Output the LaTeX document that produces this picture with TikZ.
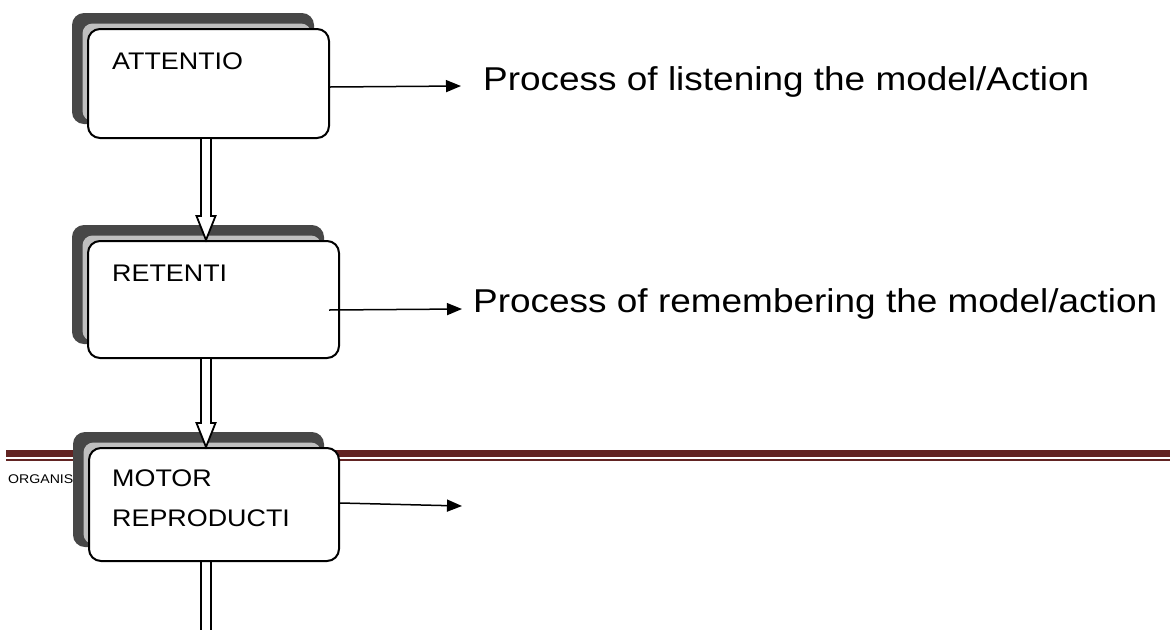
\documentclass[tikz,border=0pt]{standalone}
\usepackage{fontspec}
\setmainfont{Liberation Sans}[FakeStretch=1.12]
\usetikzlibrary{arrows.meta, positioning, calc, backgrounds}
\definecolor{headred}{RGB}{98,36,35}

\begin{document}
\begin{tikzpicture}[x=1pt, y=-1pt,
    stepbox/.style={draw, line width=2pt, rounded corners=12pt, fill=white, inner sep=0pt, anchor=north west},
    boxtext/.style={anchor=north west, inner sep=0pt, align=left, font=\fontsize{24}{40}\selectfont},
    desc/.style={anchor=base west, inner sep=0pt, font=\fontsize{33}{40}\selectfont},
    darkshade/.style={fill=black!72, rounded corners=12pt},
    lightshade/.style={fill=black!25, rounded corners=10pt},
    flowarrow/.style={-{Triangle[length=15pt,width=12pt]}, line width=1.5pt},
    hollow/.style={draw, fill=white, line width=1.8pt, line join=miter},
    ]
    \useasboundingbox (0,0) rectangle (1170,630);

    % Stages of the process
    \node[stepbox, minimum width=241pt, minimum height=109pt] (att) at (87,28) {};
    \node[stepbox, minimum width=251pt, minimum height=117pt] (ret) at (87,240) {};
    \node[stepbox, minimum width=250pt, minimum height=113pt] (mot) at (88,447) {};

    \node[boxtext] (attlbl) at ([xshift=25pt, yshift=-25pt]att.north west) {ATTENTIO};
    \node[boxtext] (retlbl) at ([xshift=25pt, yshift=-25pt]ret.north west) {RETENTI};
    \node[boxtext] (motlbl) at ([xshift=24pt, yshift=-23pt]mot.north west) {MOTOR\\REPRODUCTI};

    % Descriptions on the right
    \node[desc] (listen) at (483,90) {Process of listening the model/Action};
    \node[desc] (remember) at (473,312) {Process of remembering the model/action};

    \coordinate (tip1) at (461,86);
    \coordinate (tip2) at (462,309);
    \coordinate (tip3) at (462,506);

    \draw[flowarrow] ([yshift=-3.5pt]att.east) -- (tip1);
    \draw[flowarrow] ([xshift=-11pt, yshift=-10.5pt]ret.east) -- (tip2);
    \draw[flowarrow] ([yshift=1.5pt]mot.east) -- (tip3);

    % Hollow arrows down the column
    \coordinate (flow) at (206,0);
    \coordinate (flowend) at (206,630);
    \foreach \a/\b in {att/ret, ret/mot}
        \draw[hollow] ($(\a.south -| flow)+(-5,0)$) -- ($(\b.north -| flow)+(-5,-24)$)
            -- ++(-4.5,0) -- (\b.north -| flow) -- ($(\b.north -| flow)+(9.5,-24)$)
            -- ++(-4.5,0) -- ($(\a.south -| flow)+(5,0)$);
    \foreach \s in {-5,5}
        \draw[line width=1.8pt] ($(mot.south -| flow)+(\s,0)$) -- ($(flowend)+(\s,0)$);

    % Page header and box shadows behind everything
    \begin{scope}[on background layer]
        \draw[headred, line width=7pt] (6,453.5) -- (1170,453.5);
        \draw[headred, line width=1.5pt] (6,460) -- (1170,460);
        \node[anchor=base west, inner sep=0pt, font=\fontsize{12.6}{14}\selectfont] (org) at (8,483) {ORGANIS};
        \foreach \b in {att, ret, mot} {
            \fill[darkshade] ([xshift=-15pt, yshift=15pt]\b.north west) rectangle ([xshift=-16pt, yshift=15pt]\b.south east);
            \fill[lightshade] ([xshift=-4.5pt, yshift=4.5pt]\b.north west) rectangle ([xshift=-19pt, yshift=18pt]\b.south east);
        }
    \end{scope}
\end{tikzpicture}
\end{document}
